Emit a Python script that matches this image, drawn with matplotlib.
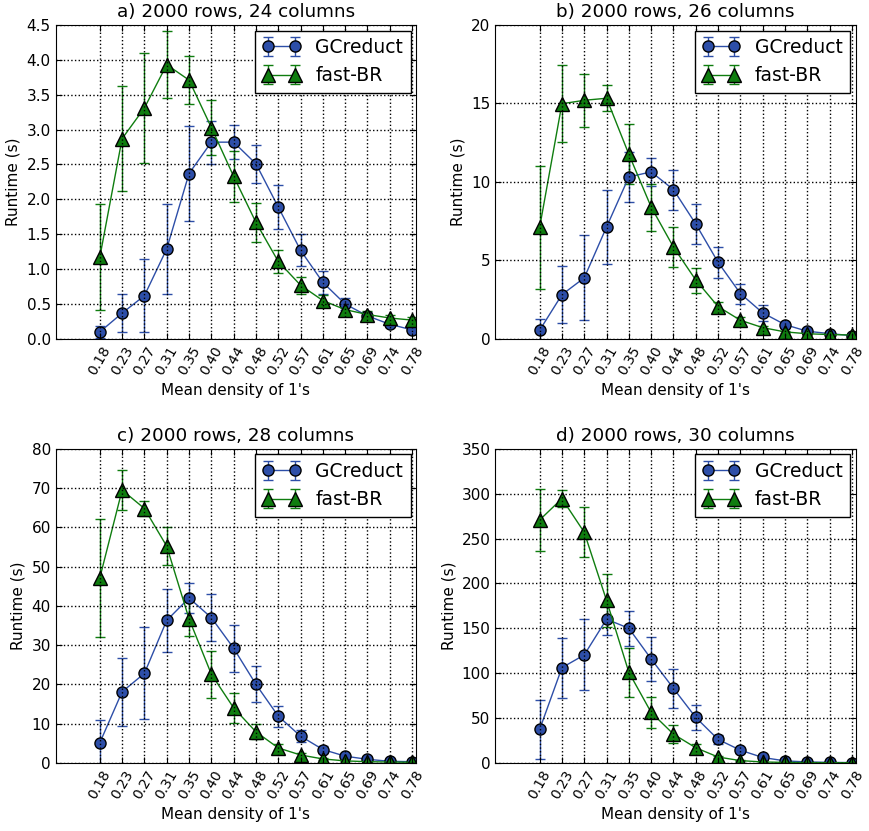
import matplotlib
matplotlib.use("Agg")
import matplotlib.pyplot as plt
import numpy as np

# x tick labels (mean density of 1's)
density = ["0.18", "0.23", "0.27", "0.31", "0.35", "0.40", "0.44", "0.48",
           "0.52", "0.57", "0.61", "0.65", "0.69", "0.74", "0.78"]

titles = ["a) 2000 rows, 24 columns", "b) 2000 rows, 26 columns",
          "c) 2000 rows, 28 columns", "d) 2000 rows, 30 columns"]

# 24 columns
gc24 = [0.10, 0.37, 0.62, 1.29, 2.37, 2.82, 2.82, 2.51, 1.89, 1.27, 0.81, 0.50, 0.33, 0.21, 0.13]
gc24_err = [0.08, 0.27, 0.52, 0.65, 0.68, 0.31, 0.24, 0.27, 0.31, 0.23, 0.17, 0.09, 0.06, 0.04, 0.03]
br24 = [1.17, 2.87, 3.31, 3.93, 3.71, 3.03, 2.33, 1.67, 1.11, 0.77, 0.55, 0.42, 0.35, 0.30, 0.27]
br24_err = [0.76, 0.75, 0.79, 0.48, 0.35, 0.40, 0.37, 0.28, 0.16, 0.12, 0.08, 0.06, 0.05, 0.04, 0.04]

# 26 columns
gc26 = [0.55, 2.82, 3.89, 7.13, 10.32, 10.64, 9.51, 7.32, 4.88, 2.89, 1.66, 0.91, 0.49, 0.34, 0.21]
gc26_err = [0.7, 1.8, 2.7, 2.35, 1.6, 0.9, 1.27, 1.28, 0.98, 0.64, 0.5, 0.2, 0.12, 0.08, 0.05]
br26 = [7.1, 14.98, 15.2, 15.33, 11.76, 8.4, 5.85, 3.75, 2.06, 1.19, 0.72, 0.45, 0.33, 0.28, 0.25]
br26_err = [3.9, 2.45, 1.7, 0.83, 1.9, 1.5, 1.26, 0.8, 0.3, 0.2, 0.1, 0.08, 0.06, 0.05, 0.04]

# 28 columns
gc28 = [5.1, 18.1, 22.8, 36.3, 42.0, 37.0, 29.2, 20.0, 11.9, 6.8, 3.4, 1.7, 0.9, 0.4, 0.3]
gc28_err = [5.8, 8.6, 11.7, 8.1, 3.8, 6.0, 6.0, 4.6, 2.7, 1.5, 0.8, 0.4, 0.2, 0.1, 0.1]
br28 = [47.1, 69.5, 64.8, 55.2, 36.7, 22.6, 14.0, 7.9, 3.8, 2.0, 1.0, 0.5, 0.3, 0.2, 0.15]
br28_err = [15.0, 5.0, 1.9, 4.9, 4.5, 6.0, 3.9, 1.9, 1.0, 0.5, 0.3, 0.15, 0.1, 0.05, 0.05]

# 30 columns
gc30 = [37.2, 106.1, 120.3, 160.1, 150.0, 115.8, 83.0, 50.6, 26.1, 14.1, 6.0, 2.2, 1.0, 0.5, 0.3]
gc30_err = [33, 33.5, 39.5, 18, 19.7, 25, 21.4, 14.3, 5, 3, 1.5, 0.6, 0.3, 0.2, 0.1]
br30 = [270.7, 294.5, 257.0, 181.0, 100.9, 56.2, 32.0, 16.8, 6.5, 2.5, 1.0, 0.5, 0.3, 0.2, 0.1]
br30_err = [35, 9.3, 27.8, 30, 27, 17.7, 10, 4, 1.5, 0.6, 0.3, 0.1, 0.1, 0.05, 0.05]

ytick_sets = [np.arange(0, 4.51, 0.5), np.arange(0, 21, 5),
              np.arange(0, 81, 10), np.arange(0, 351, 50)]
yfmt = ["%.1f", "%d", "%d", "%d"]

panels = [(gc24, gc24_err, br24, br24_err),
          (gc26, gc26_err, br26, br26_err),
          (gc28, gc28_err, br28, br28_err),
          (gc30, gc30_err, br30, br30_err)]

blue = "#2d4ea8"
green = "#0f7d0f"

plt.rcParams["font.family"] = "DejaVu Sans"
fig, axes = plt.subplots(2, 2, figsize=(8.69, 8.31), dpi=100)
plt.subplots_adjust(left=0.064, right=0.985, top=0.97, bottom=0.082,
                    wspace=0.22, hspace=0.35)

x = np.arange(len(density))
for ax, title, (gc, gce, br, bre), yt, fmt in zip(axes.flat, titles, panels, ytick_sets, yfmt):
    ax.errorbar(x, gc, yerr=gce, color=blue, marker="o", markersize=8,
                markerfacecolor=blue, markeredgecolor="black", markeredgewidth=1,
                linewidth=1, capsize=3.5, elinewidth=1, label="GCreduct")
    ax.errorbar(x, br, yerr=bre, color=green, marker="^", markersize=10,
                markerfacecolor=green, markeredgecolor="black", markeredgewidth=1,
                linewidth=1, capsize=3.5, elinewidth=1, label="fast-BR")
    ax.set_xlim(-1.98, 14.18)
    ax.set_ylim(yt[0], yt[-1])
    ax.set_xticks(x)
    ax.set_xticklabels(density, rotation=60, fontsize=10)
    ax.set_yticks(yt)
    ax.set_yticklabels([fmt % v for v in yt], fontsize=11)
    ax.tick_params(direction="in", top=True, right=True, length=4)
    ax.set_axisbelow(False)
    ax.grid(True, color="black", linestyle=":", linewidth=1)
    ax.set_title(title, fontsize=13.2)
    ax.set_xlabel("Mean density of 1's", fontsize=11)
    ax.set_ylabel("Runtime (s)", fontsize=11)
    leg = ax.legend(loc="upper right", fontsize=13.5, numpoints=2, fancybox=False,
                    framealpha=1, edgecolor="black", borderaxespad=0.3,
                    handlelength=2)
    leg.get_frame().set_linewidth(1)

plt.savefig("out.png", dpi=100)
